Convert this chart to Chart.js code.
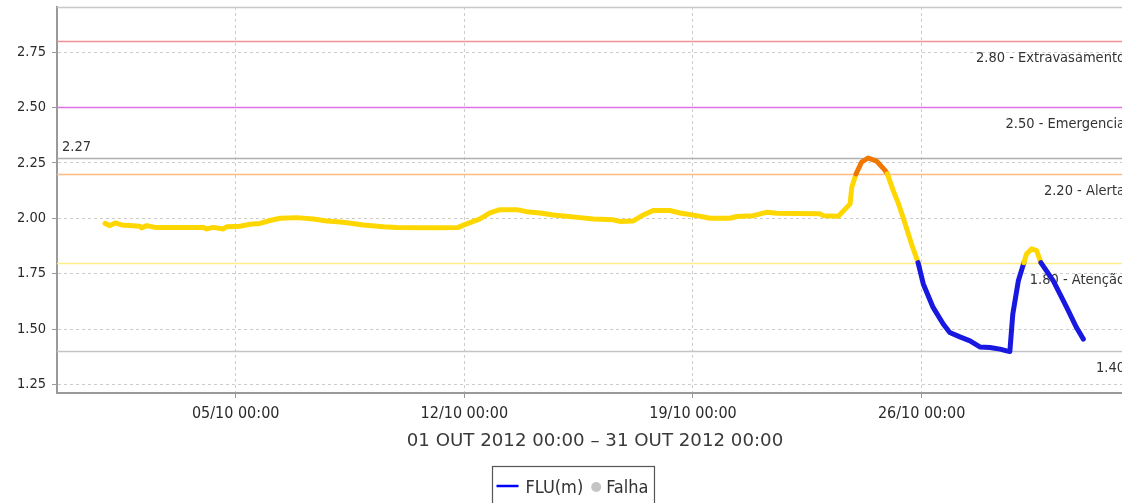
<!DOCTYPE html>
<html><head><meta charset="utf-8">
<script src="https://cdn.jsdelivr.net/npm/chart.js@4.4.0/dist/chart.umd.min.js"></script>
<style>
html,body{margin:0;padding:0;background:#fff;overflow:hidden;}
#wrap{position:relative;width:1150px;height:503px;}
</style></head><body>
<div id="wrap"><canvas id="c"></canvas></div>
<script>
// ---- data (days since 01/10/2012 00:00, level in m) ----
const days = [0, 0.15, 0.31, 0.51, 1.07, 1.12, 1.28, 1.53, 3.01, 3.11, 3.31, 3.62, 3.73, 4.13, 4.44, 4.74, 5.05, 5.36, 5.87, 6.38, 6.79, 7.29, 7.91, 8.52, 8.93, 10.05, 10.81, 11.07, 11.48, 11.78, 12.09, 12.60, 12.91, 13.32, 13.72, 14.13, 14.54, 14.95, 15.56, 15.76, 16.17, 16.48, 16.78, 17.29, 17.60, 18.11, 18.52, 19.13, 19.34, 19.84, 20.25, 20.56, 21.89, 21.99, 22.45, 22.81, 22.86, 22.99, 23.16, 23.36, 23.62, 23.88, 23.95, 24.13, 24.28, 24.43, 24.56, 24.69, 24.89, 25.05, 25.35, 25.66, 25.86, 26.17, 26.48, 26.78, 27.09, 27.40, 27.60, 27.70, 27.79, 27.96, 28.13, 28.21, 28.37, 28.52, 28.65, 29.03, 29.44, 29.74, 29.95];
const levels = [1.977, 1.967, 1.979, 1.970, 1.964, 1.957, 1.967, 1.959, 1.959, 1.952, 1.959, 1.952, 1.962, 1.964, 1.973, 1.977, 1.990, 2.000, 2.003, 1.997, 1.988, 1.982, 1.970, 1.962, 1.959, 1.957, 1.959, 1.975, 1.997, 2.024, 2.039, 2.039, 2.030, 2.024, 2.015, 2.009, 2.003, 1.997, 1.993, 1.986, 1.988, 2.015, 2.035, 2.035, 2.024, 2.012, 2.000, 2.000, 2.008, 2.012, 2.027, 2.023, 2.020, 2.012, 2.009, 2.065, 2.140, 2.200, 2.253, 2.272, 2.258, 2.216, 2.200, 2.125, 2.070, 2.005, 1.945, 1.884, 1.800, 1.704, 1.598, 1.523, 1.485, 1.465, 1.447, 1.420, 1.417, 1.410, 1.402, 1.399, 1.568, 1.718, 1.800, 1.839, 1.862, 1.854, 1.800, 1.718, 1.598, 1.507, 1.455];
const xTickDays = [4, 11, 18, 25];
const xTickLabels = ['05/10 00:00', '12/10 00:00', '19/10 00:00', '26/10 00:00'];
const yTicks = [1.25, 1.50, 1.75, 2.00, 2.25, 2.50, 2.75];
const thresholdValues = [2.80, 2.50, 2.20, 1.80, 1.40];
const thresholdNames = ['Extravasamento', 'Emergencia', 'Alerta', 'Atenção', ''];
const periodLabel = '01 OUT 2012 00:00 – 31 OUT 2012 00:00';
const seriesName = 'FLU(m)';
const failName = 'Falha';
const xRange = [-1.47, 31.47];
const yRange = [1.212, 2.953];

// ---- styles ----
const thresholdColors = ['#F09090', '#E070E8', '#FFBB80', '#FFEE88', '#C4C4C4'];
const COL_ORANGE = '#F07800', COL_YELLOW = '#FFD700', COL_BLUE = '#1818E0';
const condFont = '"DejaVu Sans Condensed", "DejaVu Sans", sans-serif';

function levelColor(v) {
  if (v >= thresholdValues[2]) return COL_ORANGE;
  if (v >= thresholdValues[3]) return COL_YELLOW;
  return COL_BLUE;
}

const overlay = {
  id: 'overlay',
  beforeDatasetsDraw(chart) {
    const {ctx, chartArea: a, scales: {y}} = chart;
    ctx.save();
    // top frame line
    ctx.strokeStyle = '#C8C8C8'; ctx.lineWidth = 1.5;
    ctx.beginPath(); ctx.moveTo(a.left, a.top + 0.5); ctx.lineTo(a.right, a.top + 0.5); ctx.stroke();
    // maximum line
    const maxV = Math.max(...levels);
    const ym = Math.round(y.getPixelForValue(maxV)) + 0.5;
    ctx.strokeStyle = '#B0B0B0'; ctx.lineWidth = 1.5;
    ctx.beginPath(); ctx.moveTo(a.left, ym); ctx.lineTo(a.right, ym); ctx.stroke();
    ctx.font = '14.5px ' + condFont; ctx.fillStyle = '#333';
    ctx.textAlign = 'left'; ctx.textBaseline = 'alphabetic';
    ctx.fillText(maxV.toFixed(2), a.left + 5, ym - 8);
    // thresholds
    thresholdValues.forEach((v, i) => {
      const yp = Math.round(y.getPixelForValue(v)) + 0.5;
      ctx.strokeStyle = thresholdColors[i]; ctx.lineWidth = 1.5;
      ctx.beginPath(); ctx.moveTo(a.left, yp); ctx.lineTo(a.right, yp); ctx.stroke();
      const txt = v.toFixed(2) + (thresholdNames[i] ? ' - ' + thresholdNames[i] : '');
      ctx.textAlign = 'right'; ctx.fillStyle = '#333';
      ctx.fillText(txt, a.right - 8, yp + 20);
    });
    ctx.restore();
  },
  afterDraw(chart) {
    const {ctx, chartArea: a, width} = chart;
    ctx.save();
    // period title
    ctx.font = '18.2px "DejaVu Sans", sans-serif';
    ctx.fillStyle = '#3A3A3A'; ctx.textAlign = 'center'; ctx.textBaseline = 'alphabetic';
    ctx.fillText(periodLabel, (a.left + a.right) / 2, 446);
    // legend
    ctx.font = '18px ' + condFont;
    const w1 = ctx.measureText(seriesName).width, w2 = ctx.measureText(failName).width;
    const boxW = 4 + 22 + 7 + w1 + 8 + 10 + 5 + w2 + 6;
    const bx = Math.round(width / 2 - 2 - boxW / 2) + 0.5, by = 466.5;
    ctx.strokeStyle = '#555'; ctx.lineWidth = 1.2;
    ctx.strokeRect(bx, by, boxW, 60);
    let x = bx + 4;
    ctx.strokeStyle = '#0000FF'; ctx.lineWidth = 2.5;
    ctx.beginPath(); ctx.moveTo(x, 486); ctx.lineTo(x + 22, 486); ctx.stroke();
    x += 29;
    ctx.fillStyle = '#333'; ctx.textAlign = 'left';
    ctx.fillText(seriesName, x, 493);
    x += w1 + 8;
    ctx.fillStyle = '#C4C4C4';
    ctx.beginPath(); ctx.arc(x + 5, 487, 5, 0, Math.PI * 2); ctx.fill();
    x += 15;
    ctx.fillStyle = '#333';
    ctx.fillText(failName, x, 493);
    ctx.restore();
  }
};

new Chart(document.getElementById('c'), {
  type: 'line',
  data: {
    datasets: [{
      label: seriesName,
      data: days.map((d, i) => ({x: d, y: levels[i]})),
      borderColor: COL_YELLOW,
      borderWidth: 5,
      pointRadius: 0,
      tension: 0,
      borderJoinStyle: 'round',
      borderCapStyle: 'round',
      segment: {
        borderColor: c => levelColor((c.p0.parsed.y + c.p1.parsed.y) / 2)
      }
    }]
  },
  options: {
    responsive: true,
    maintainAspectRatio: false,
    animation: false,
    devicePixelRatio: 1,
    layout: {padding: {top: 7, right: 17, bottom: 0, left: 0}},
    plugins: {legend: {display: false}, tooltip: {enabled: false}},
    scales: {
      x: {
        type: 'linear', min: xRange[0], max: xRange[1],
        afterBuildTicks: s => { s.ticks = xTickDays.map(v => ({value: v})); },
        afterFit: s => { s.height = 110; s.paddingLeft = 0; s.paddingRight = 0; },
        ticks: {
          autoSkip: false, maxRotation: 0, padding: 6, color: '#2A2A2A',
          font: {family: condFont, size: 16},
          callback: v => { const i = xTickDays.indexOf(v); return i >= 0 ? xTickLabels[i] : ''; }
        },
        grid: {color: '#CCCCCC', lineWidth: 1, tickLength: 5, tickColor: '#999', tickWidth: 1},
        border: {color: '#9A9A9A', width: 2, dash: [3, 3]}
      },
      y: {
        type: 'linear', min: yRange[0], max: yRange[1],
        afterBuildTicks: s => { s.ticks = yTicks.map(v => ({value: v})); },
        afterFit: s => { s.width = 57; s.paddingTop = 0; s.paddingBottom = 0; },
        ticks: {
          padding: 6, color: '#2A2A2A',
          font: {family: condFont, size: 14.5},
          callback: v => Number(v).toFixed(2)
        },
        grid: {color: '#CCCCCC', lineWidth: 1, tickLength: 5, tickColor: '#999', tickWidth: 1},
        border: {color: '#9A9A9A', width: 2, dash: [3, 3]}
      }
    }
  },
  plugins: [overlay]
});
</script>
</body></html>
